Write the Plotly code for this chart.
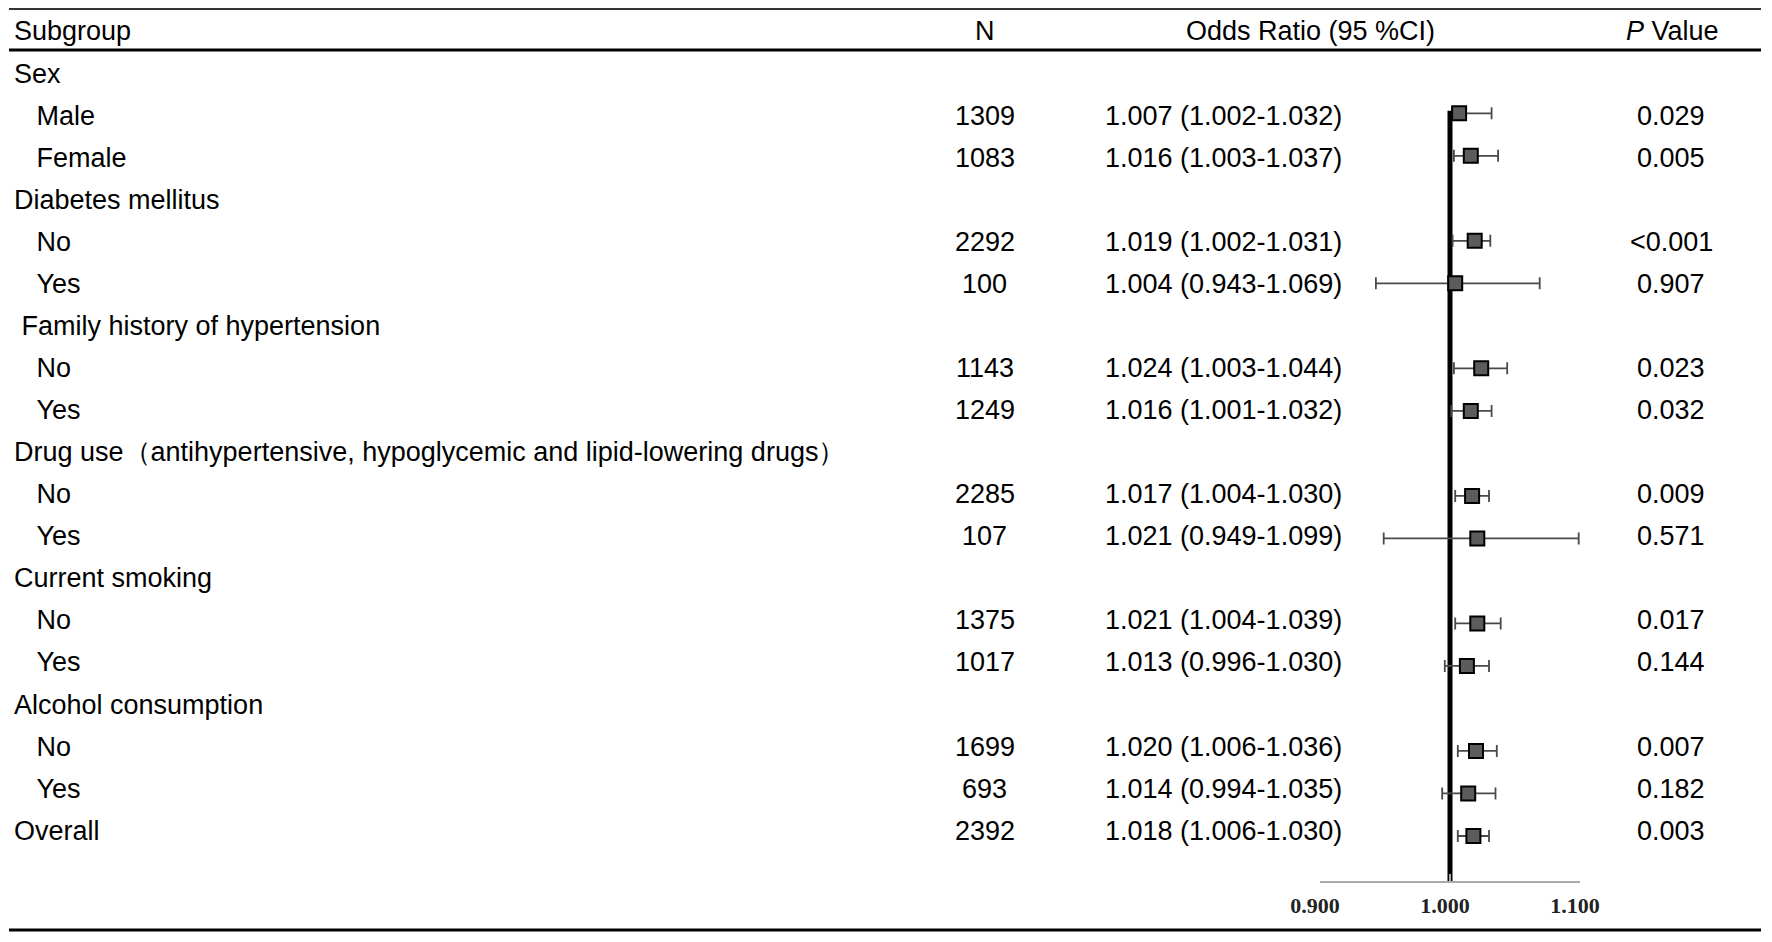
import plotly.graph_objects as go

NB = "\u00a0"
labels = ["Sex", "Male", "Female",
          "Diabetes mellitus", "No", "Yes",
          NB + "Family history of hypertension", "No", "Yes",
          "Drug use\uff08antihypertensive, hypoglycemic and lipid-lowering drugs\uff09", "No", "Yes",
          "Current smoking", "No", "Yes",
          "Alcohol consumption", "No", "Yes",
          "Overall"]
level = [0, 1, 1, 0, 1, 1, 0, 1, 1, 0, 1, 1, 0, 1, 1, 0, 1, 1, 0]
n_vals = [None, 1309, 1083, None, 2292, 100, None, 1143, 1249, None, 2285, 107,
          None, 1375, 1017, None, 1699, 693, 2392]
or_vals = [None, 1.007, 1.016, None, 1.019, 1.004, None, 1.024, 1.016, None, 1.017, 1.021,
           None, 1.021, 1.013, None, 1.020, 1.014, 1.018]
ci_lo = [None, 1.002, 1.003, None, 1.002, 0.943, None, 1.003, 1.001, None, 1.004, 0.949,
         None, 1.004, 0.996, None, 1.006, 0.994, 1.006]
ci_hi = [None, 1.032, 1.037, None, 1.031, 1.069, None, 1.044, 1.032, None, 1.030, 1.099,
         None, 1.039, 1.030, None, 1.036, 1.035, 1.030]
p_vals = [None, "0.029", "0.005", None, "<0.001", "0.907", None, "0.023", "0.032", None,
          "0.009", "0.571", None, "0.017", "0.144", None, "0.007", "0.182", "0.003"]
headers = ["Subgroup", "N", "Odds Ratio (95 %CI)", "<i>P</i> Value"]
tick_vals = [0.9, 1.0, 1.1]
tick_text = ["0.900", "1.000", "1.100"]

# page geometry (the page body adds an 8px offset)
VW, VH = 1772, 942
OFF = 8
FW, FH = VW - OFF, VH - OFF

def px(x):           # viewport x -> paper fraction
    return (x - OFF) / FW
def py(y):           # viewport y -> paper fraction
    return 1 - (y - OFF) / FH

# row mapping for the forest marks and for the table text (viewport pixels)
M0, MSTEP = 70.8, 42.51
T0, TSTEP = 73.5, 42.07
def mrow(y):
    return (y - M0) / MSTEP
def trow(y):
    return (y - T0) / TSTEP

FONT = "Liberation Sans, Arial, sans-serif"
FS = 27

rows = [i for i, v in enumerate(or_vals) if v is not None]
xs = [or_vals[i] for i in rows]
err_plus = [ci_hi[i] - or_vals[i] for i in rows]
err_minus = [or_vals[i] - ci_lo[i] for i in rows]

fig = go.Figure()
fig.add_trace(go.Scatter(
    x=xs, y=rows, mode="markers",
    marker=dict(symbol="square", size=14, color="#5c5c5c",
                line=dict(color="black", width=2)),
    error_x=dict(type="data", symmetric=False, array=err_plus, arrayminus=err_minus,
                 color="#4a4a4a", thickness=1.8, width=6),
    showlegend=False, hoverinfo="skip",
))

ann = []
def add_text(x, yrow, text, anchor):
    ann.append(dict(xref="paper", yref="y2", x=px(x), y=yrow, text=text,
                    showarrow=False, xanchor=anchor, yanchor="middle",
                    font=dict(family=FONT, size=FS, color="black")))

for i, lab in enumerate(labels):
    indent = NB * 3 if level[i] == 1 else ""
    add_text(12, i, indent + lab, "left")
    if n_vals[i] is not None:
        add_text(985, i, str(n_vals[i]), "center")
    if or_vals[i] is not None:
        add_text(1223, i, f"{or_vals[i]:.3f} ({ci_lo[i]:.3f}-{ci_hi[i]:.3f})", "center")
    if p_vals[i] is not None:
        add_text(1671, i, p_vals[i], "center")

hy = trow(30.5)
add_text(12, hy, headers[0], "left")
add_text(985, hy, headers[1], "center")
add_text(1310, hy, headers[2], "center")
add_text(1672, hy, headers[3], "center")

axis_y = 882
shapes = [
    dict(type="line", xref="paper", yref="paper", x0=px(9), x1=px(1761),
         y0=py(9), y1=py(9), line=dict(color="#333333", width=2)),
    dict(type="line", xref="paper", yref="paper", x0=px(9), x1=px(1761),
         y0=py(50), y1=py(50), line=dict(color="black", width=3)),
    dict(type="line", xref="paper", yref="paper", x0=px(9), x1=px(1761),
         y0=py(930), y1=py(930), line=dict(color="black", width=3)),
    dict(type="line", xref="x", yref="y", x0=1.0, x1=1.0,
         y0=rows[0] - 0.06, y1=mrow(axis_y), layer="below",
         line=dict(color="black", width=5)),
]

fig.update_layout(
    width=FW, height=FH,
    margin=dict(l=0, r=0, t=0, b=0, pad=0, autoexpand=False),
    paper_bgcolor="white", plot_bgcolor="rgba(0,0,0,0)",
    annotations=ann, shapes=shapes,
    xaxis=dict(domain=[px(1320), px(1580)], range=[0.9, 1.1],
               anchor="free", position=py(axis_y), automargin=False,
               showgrid=False, zeroline=False,
               showline=True, linecolor="#aaaaaa", linewidth=2,
               ticks="inside", ticklen=7, tickwidth=2, tickcolor="#aaaaaa",
               tickvals=tick_vals, ticktext=tick_text,
               ticklabelstandoff=4, ticklabelshift=-5,
               tickfont=dict(family="Liberation Serif, DejaVu Serif, serif", size=22,
                             color="#222222", weight="bold")),
    yaxis=dict(domain=[0, 1], range=[mrow(VH), mrow(OFF)], visible=False,
               automargin=False, showgrid=False, zeroline=False),
    yaxis2=dict(domain=[0, 1], range=[trow(VH), trow(OFF)], visible=False,
                overlaying="y", automargin=False, showgrid=False, zeroline=False),
)

fig.write_html("out.html")
